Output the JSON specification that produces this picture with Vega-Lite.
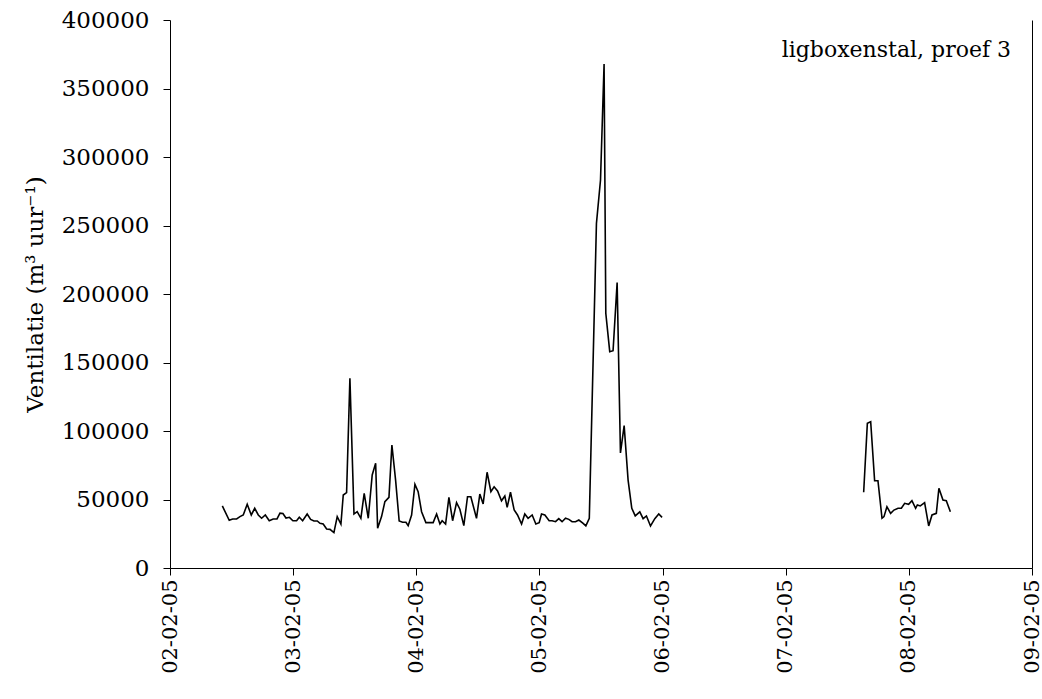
{
  "$schema": "https://vega.github.io/schema/vega-lite/v6.json",
  "width": 862,
  "height": 548,
  "autosize": {"type": "none"},
  "padding": {"left": 170, "top": 20, "right": 10, "bottom": 131},
  "background": "white",
  "config": {
    "view": {"stroke": null},
    "font": "DejaVu Serif",
    "axis": {"grid": false, "domainColor": "black", "tickColor": "black", "labelColor": "black", "titleColor": "black", "labelFont": "DejaVu Serif", "titleFont": "DejaVu Serif", "labelFontSize": 22, "titleFontSize": 23, "titleFontWeight": "normal", "tickSize": 7, "domainWidth": 1, "tickWidth": 1}
  },
  "datasets": {
    "vent": [
      {"d":2.425,"v":45300,"s":1},{"d":2.481,"v":34800,"s":1},{"d":2.509,"v":35800,"s":1},{"d":2.541,"v":35800,"s":1},
      {"d":2.568,"v":37500,"s":1},{"d":2.595,"v":38700,"s":1},{"d":2.627,"v":46500,"s":1},{"d":2.660,"v":38700,"s":1},
      {"d":2.688,"v":43600,"s":1},{"d":2.717,"v":38700,"s":1},{"d":2.744,"v":36300,"s":1},{"d":2.774,"v":38700,"s":1},
      {"d":2.806,"v":34500,"s":1},{"d":2.838,"v":35800,"s":1},{"d":2.869,"v":35800,"s":1},{"d":2.893,"v":40000,"s":1},
      {"d":2.917,"v":39800,"s":1},{"d":2.942,"v":36500,"s":1},{"d":2.970,"v":37000,"s":1},{"d":2.998,"v":34500,"s":1},
      {"d":3.028,"v":34500,"s":1},{"d":3.050,"v":37000,"s":1},{"d":3.077,"v":34500,"s":1},{"d":3.114,"v":39400,"s":1},
      {"d":3.142,"v":35500,"s":1},{"d":3.169,"v":34300,"s":1},{"d":3.196,"v":34300,"s":1},{"d":3.218,"v":32600,"s":1},
      {"d":3.244,"v":32100,"s":1},{"d":3.272,"v":28500,"s":1},{"d":3.299,"v":28200,"s":1},{"d":3.331,"v":25800,"s":1},
      {"d":3.358,"v":37500,"s":1},{"d":3.388,"v":32100,"s":1},{"d":3.407,"v":53300,"s":1},{"d":3.434,"v":55000,"s":1},
      {"d":3.461,"v":138500,"s":1},{"d":3.494,"v":39400,"s":1},{"d":3.520,"v":41100,"s":1},{"d":3.550,"v":36300,"s":1},
      {"d":3.577,"v":54500,"s":1},{"d":3.610,"v":36300,"s":1},{"d":3.642,"v":67900,"s":1},{"d":3.670,"v":76400,"s":1},
      {"d":3.686,"v":29000,"s":1},{"d":3.718,"v":37500,"s":1},{"d":3.745,"v":48400,"s":1},{"d":3.778,"v":51600,"s":1},
      {"d":3.802,"v":89800,"s":1},{"d":3.832,"v":64200,"s":1},{"d":3.861,"v":34300,"s":1},{"d":3.889,"v":33400,"s":1},
      {"d":3.916,"v":33400,"s":1},{"d":3.934,"v":30900,"s":1},{"d":3.962,"v":38700,"s":1},{"d":3.989,"v":61100,"s":1},
      {"d":4.015,"v":55700,"s":1},{"d":4.043,"v":41100,"s":1},{"d":4.078,"v":33100,"s":1},{"d":4.106,"v":33100,"s":1},
      {"d":4.137,"v":33100,"s":1},{"d":4.165,"v":39400,"s":1},{"d":4.192,"v":32100,"s":1},{"d":4.210,"v":34500,"s":1},
      {"d":4.238,"v":32100,"s":1},{"d":4.265,"v":51600,"s":1},{"d":4.295,"v":34500,"s":1},{"d":4.327,"v":47700,"s":1},
      {"d":4.354,"v":42900,"s":1},{"d":4.386,"v":30900,"s":1},{"d":4.416,"v":52000,"s":1},{"d":4.443,"v":52000,"s":1},
      {"d":4.489,"v":36300,"s":1},{"d":4.516,"v":54000,"s":1},{"d":4.543,"v":46700,"s":1},{"d":4.575,"v":69900,"s":1},
      {"d":4.606,"v":55700,"s":1},{"d":4.632,"v":59300,"s":1},{"d":4.660,"v":56200,"s":1},{"d":4.692,"v":49100,"s":1},
      {"d":4.719,"v":52600,"s":1},{"d":4.738,"v":44300,"s":1},{"d":4.765,"v":55300,"s":1},{"d":4.795,"v":42300,"s":1},
      {"d":4.822,"v":38700,"s":1},{"d":4.855,"v":32100,"s":1},{"d":4.881,"v":39400,"s":1},{"d":4.908,"v":36300,"s":1},
      {"d":4.941,"v":38700,"s":1},{"d":4.971,"v":32100,"s":1},{"d":4.998,"v":33100,"s":1},{"d":5.017,"v":39400,"s":1},
      {"d":5.044,"v":38700,"s":1},{"d":5.079,"v":34500,"s":1},{"d":5.103,"v":34500,"s":1},{"d":5.131,"v":33800,"s":1},
      {"d":5.157,"v":36000,"s":1},{"d":5.184,"v":33800,"s":1},{"d":5.212,"v":36300,"s":1},{"d":5.239,"v":35500,"s":1},
      {"d":5.265,"v":33800,"s":1},{"d":5.293,"v":33800,"s":1},{"d":5.320,"v":35000,"s":1},{"d":5.355,"v":32600,"s":1},
      {"d":5.377,"v":30700,"s":1},{"d":5.405,"v":36300,"s":1},{"d":5.463,"v":251600,"s":1},{"d":5.496,"v":283200,"s":1},
      {"d":5.525,"v":367900,"s":1},{"d":5.539,"v":185900,"s":1},{"d":5.571,"v":157900,"s":1},{"d":5.598,"v":158600,"s":1},
      {"d":5.631,"v":208300,"s":1},{"d":5.658,"v":84000,"s":1},{"d":5.688,"v":104000,"s":1},{"d":5.720,"v":64200,"s":1},
      {"d":5.750,"v":43600,"s":1},{"d":5.778,"v":38000,"s":1},{"d":5.815,"v":41000,"s":1},{"d":5.842,"v":36000,"s":1},
      {"d":5.869,"v":38000,"s":1},{"d":5.902,"v":30700,"s":1},{"d":5.937,"v":36000,"s":1},{"d":5.969,"v":39400,"s":1},
      {"d":5.996,"v":37000,"s":1},
      {"d":7.633,"v":55300,"s":2},{"d":7.663,"v":105600,"s":2},{"d":7.690,"v":106800,"s":2},{"d":7.722,"v":63700,"s":2},
      {"d":7.749,"v":63700,"s":2},{"d":7.782,"v":36300,"s":2},{"d":7.798,"v":37500,"s":2},{"d":7.822,"v":44700,"s":2},
      {"d":7.852,"v":39900,"s":2},{"d":7.879,"v":42300,"s":2},{"d":7.912,"v":43600,"s":2},{"d":7.939,"v":43600,"s":2},
      {"d":7.966,"v":47200,"s":2},{"d":7.998,"v":46500,"s":2},{"d":8.025,"v":49100,"s":2},{"d":8.055,"v":43600,"s":2},
      {"d":8.069,"v":46000,"s":2},{"d":8.093,"v":45300,"s":2},{"d":8.128,"v":47700,"s":2},{"d":8.161,"v":30700,"s":2},
      {"d":8.188,"v":38700,"s":2},{"d":8.223,"v":39900,"s":2},{"d":8.244,"v":58200,"s":2},{"d":8.277,"v":49600,"s":2},
      {"d":8.304,"v":49100,"s":2},{"d":8.337,"v":41100,"s":2}
    ],
    "note": [{"d": 8.83, "v": 378000, "label": "ligboxenstal, proef 3"}]
  },
  "layer": [
    {
      "data": {"name": "vent"},
      "mark": {"type": "line", "color": "black", "strokeWidth": 1.6},
      "encoding": {
        "x": {"field": "d", "type": "quantitative", "scale": {"domain": [2, 9], "nice": false, "zero": false},
              "axis": {"values": [2, 3, 4, 5, 6, 7, 8, 9], "labelExpr": "'0' + datum.value + '-02-05'", "labelAngle": -90, "labelPadding": 4, "title": null, "labelFlush": false, "labelOverlap": false, "labelFontSize": 21}},
        "y": {"field": "v", "type": "quantitative", "scale": {"domain": [0, 400000], "nice": false},
              "axis": {"values": [0, 50000, 100000, 150000, 200000, 250000, 300000, 350000, 400000], "format": "d", "labelPadding": 14, "labelFontSize": 23, "title": "Ventilatie (m³ uur⁻¹)", "titlePadding": 14, "labelFlush": false, "labelOverlap": false}},
        "detail": {"field": "s", "type": "nominal"}
      }
    },
    {
      "data": {"name": "note"},
      "mark": {"type": "text", "align": "right", "baseline": "middle", "fontSize": 22, "font": "DejaVu Serif", "color": "black"},
      "encoding": {
        "x": {"field": "d", "type": "quantitative"},
        "y": {"field": "v", "type": "quantitative", "axis": {"orient": "right", "labels": false, "ticks": false, "title": null, "domain": true}},
        "text": {"field": "label"}
      }
    }
  ],
  "resolve": {"axis": {"y": "independent"}}
}
